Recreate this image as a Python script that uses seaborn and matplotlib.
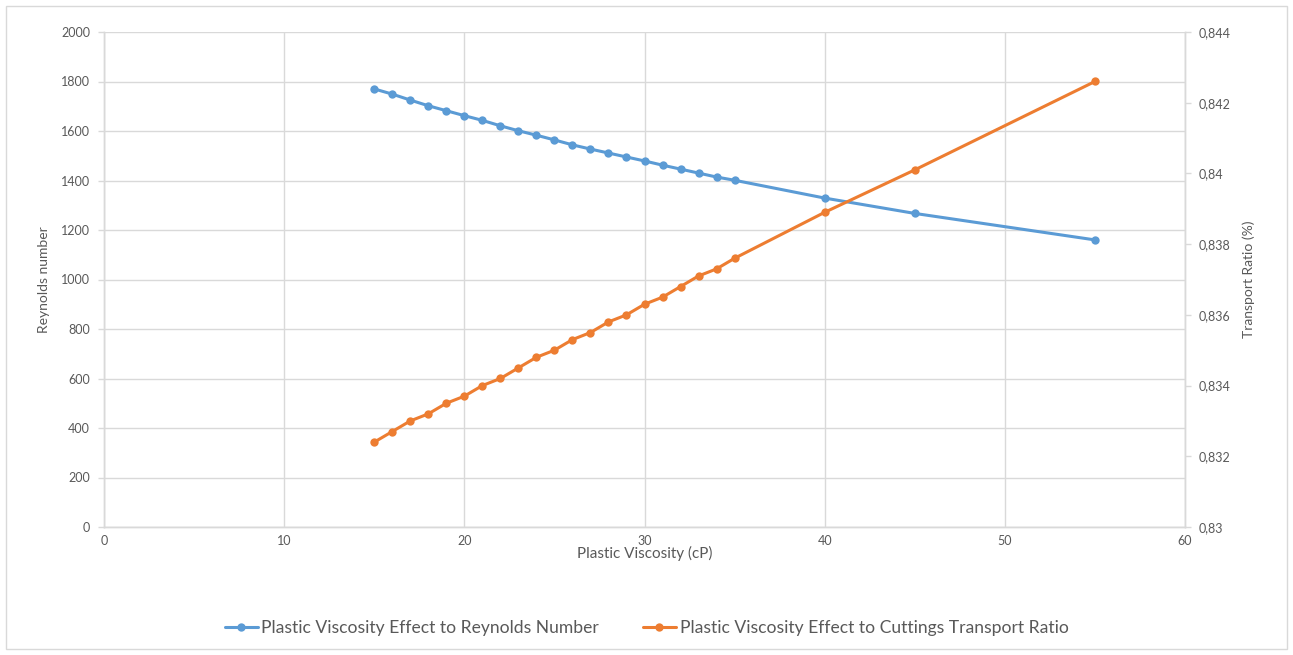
import numpy as np
import pandas as pd
import matplotlib
matplotlib.use("Agg")
import matplotlib.pyplot as plt
import seaborn as sns
from matplotlib.ticker import FuncFormatter, MultipleLocator
from matplotlib.patches import Rectangle
from matplotlib.lines import Line2D

# ---- data ----
viscosity = [15, 16, 17, 18, 19, 20, 21, 22, 23, 24, 25, 26, 27, 28, 29, 30,
             31, 32, 33, 34, 35, 40, 45, 55]
reynolds = [1770, 1749, 1725, 1702, 1682, 1662, 1643, 1621, 1601, 1583, 1564,
            1544, 1527, 1511, 1495, 1479, 1462, 1446, 1430, 1414, 1401,
            1329, 1267, 1160]
transport = [0.8324, 0.8327, 0.8330, 0.8332, 0.8335, 0.8337, 0.8340, 0.8342,
             0.8345, 0.8348, 0.8350, 0.8353, 0.8355, 0.8358, 0.8360, 0.8363,
             0.8365, 0.8368, 0.8371, 0.8373, 0.8376, 0.8389, 0.8401, 0.8426]
label_re = "Plastic Viscosity Effect to Reynolds Number"
label_tr = "Plastic Viscosity Effect to Cuttings Transport Ratio"
xlabel = "Plastic Viscosity (cP)"
ylabel_left = "Reynolds number"
ylabel_right = "Transport Ratio (%)"

df = pd.DataFrame({"x": viscosity, "re": reynolds, "tr": transport})

sns.set_theme(style="white")
plt.rcParams["font.family"] = ["Lato", "DejaVu Sans"]

BLUE = "#5B9BD5"
ORANGE = "#ED7D31"
GRID = "#D9D9D9"
TXT = "#595959"

fig = plt.figure(figsize=(12.93, 6.55), dpi=100)
W, H = 1293, 655
ax = fig.add_axes([104 / W, 1 - 527 / H, (1185 - 104) / W, (527 - 32) / H])
ax2 = ax.twinx()

sns.lineplot(data=df, x="x", y="re", ax=ax, color=BLUE, marker="o",
             markersize=6, markeredgewidth=0, linewidth=2.2, zorder=3)
sns.lineplot(data=df, x="x", y="tr", ax=ax2, color=ORANGE, marker="o",
             markersize=6, markeredgewidth=0, linewidth=2.2, zorder=3)

ax.set_xlim(0, 60)
ax.set_ylim(0, 2000)
ax2.set_ylim(0.83, 0.844)
ax.xaxis.set_major_locator(MultipleLocator(10))
ax.yaxis.set_major_locator(MultipleLocator(200))
ax2.yaxis.set_major_locator(MultipleLocator(0.002))

def comma_fmt(v, pos):
    s = f"{v:.3f}".rstrip("0").rstrip(".")
    return s.replace(".", ",")

ax2.yaxis.set_major_formatter(FuncFormatter(comma_fmt))

ax.grid(True, color=GRID, linewidth=1)
ax2.grid(False)
ax.set_axisbelow(True)

for a in (ax, ax2):
    a.spines["top"].set_visible(False)
    for side in ("left", "right", "bottom"):
        a.spines[side].set_color(GRID)
        a.spines[side].set_linewidth(1)
    a.tick_params(colors=TXT, labelsize=9, length=4, width=1)
    a.tick_params(axis="both", color=GRID)

ax.tick_params(axis="x", length=0, pad=6)
ax.tick_params(axis="y", pad=6)
ax2.tick_params(axis="y", pad=6)

ax.set_xlabel(xlabel, color=TXT, fontsize=11, labelpad=-1)
ax.set_ylabel(ylabel_left, color=TXT, fontsize=10, labelpad=8)
ax2.set_ylabel(ylabel_right, color=TXT, fontsize=10, labelpad=8)

handles = [
    Line2D([0], [0], color=BLUE, marker="o", markersize=6, linewidth=2.2, markeredgewidth=0),
    Line2D([0], [0], color=ORANGE, marker="o", markersize=6, linewidth=2.2, markeredgewidth=0),
]
fig.legend(handles, [label_re, label_tr], loc="center", bbox_to_anchor=(0.5, 1 - 628 / H),
           ncol=2, frameon=False, fontsize=12.6, labelcolor=TXT, columnspacing=2.5,
           handlelength=1.9, handletextpad=0.2)

fig.patches.append(Rectangle((6 / W, 6 / H), 1 - 12 / W, 1 - 12 / H,
                             transform=fig.transFigure, fill=False,
                             edgecolor=GRID, linewidth=1))

fig.savefig("out.png", dpi=100)
